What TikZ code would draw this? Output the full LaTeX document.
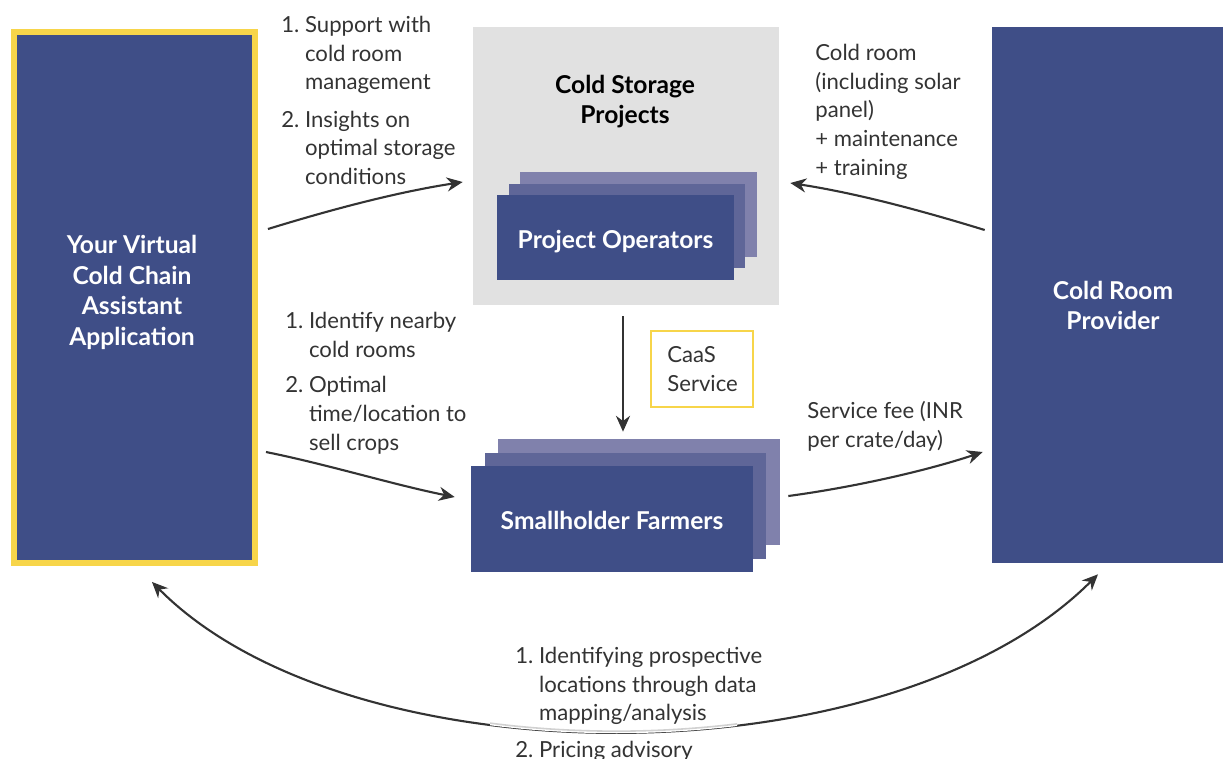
\documentclass[tikz,border=0pt]{standalone}
\usepackage{fontspec}
\setmainfont{Lato}
\usetikzlibrary{arrows.meta,calc}
\definecolor{boxblue}{HTML}{3F4E87}
\definecolor{stackmid}{HTML}{5F6698}
\definecolor{stackback}{HTML}{8081AC}
\definecolor{boxyellow}{HTML}{F7D54A}
\definecolor{panelgray}{HTML}{E1E1E1}
\definecolor{ink}{HTML}{333333}
\newcommand*{\notefont}{\fontsize{12.6}{16.3}\selectfont}
\newcommand*{\titlefont}{\fontsize{14}{17.6}\selectfont\bfseries}
\newcommand{\stackbox}[6]{%
% name, centre, width, height, layer shift, text
  \node[layer, fill=stackback, minimum width=#3, minimum height=#4]
    (#1-back) at ($(#2)+(2*#5,-2*#5)$) {};
  \node[layer, fill=stackmid, minimum width=#3, minimum height=#4]
    (#1-mid) at ($(#2)+(#5,-#5)$) {};
  \node[layer, fill=boxblue, minimum width=#3, minimum height=#4]
    (#1) at (#2) {};
  \node[title, text=white] (#1-text) at ($(#1)+(0,4.5)$) {#6};
}
\tikzset{
  layer/.style={rectangle, inner sep=0pt, draw=none},
  title/.style={align=center, inner sep=0pt, font=\titlefont,
    execute at begin node=\strut},
  note/.style={anchor=north west, align=left, inner sep=0pt,
    font=\notefont, text=ink, execute at begin node=\strut},
  flow/.style={draw=ink, line width=1.2pt, -{Stealth[length=9pt,width=8pt]}}
}

\begin{document}
\begin{tikzpicture}[x=0.02cm, y=-0.02cm]
  \useasboundingbox (0,0) rectangle (1223,758);

  % main boxes
  \node[layer, fill=boxblue, draw=boxyellow, line width=3.4pt,
    minimum width=4.82cm, minimum height=10.62cm] (app) at (134.5,297.5) {};
  \node[title, text=white] (apptext) at (132,295)
    {Your Virtual\\Cold Chain\\Assistant\\Application};
  \node[layer, fill=boxblue, minimum width=4.86cm, minimum height=10.72cm]
    (provider) at (1113.5,295) {};
  \node[title, text=white] (providertext) at (1113,310) {Cold Room\\Provider};
  \node[layer, fill=panelgray, minimum width=6.12cm, minimum height=5.56cm]
    (projects) at (626,166) {};
  \node[title, text=black] (projectstext) at (625,104) {Cold Storage\\Projects};

  \stackbox{operators}{615.5,237.5}{4.74cm}{1.7cm}{11.5}{Project Operators}
  \stackbox{farmers}{612,519}{5.64cm}{2.12cm}{13.5}{Smallholder Farmers}

  \node[layer, draw=boxyellow, line width=1.2pt, minimum width=2.04cm,
    minimum height=1.52cm] (caas) at (702,369) {};
  \node[note] (caastext) at (667,346) {CaaS\\Service};

  % labels
  \node[note] (supportnote) at (281,16)
    {1.\ Support with\\\hphantom{1.\ }cold room\\\hphantom{1.\ }management\\[5pt]
     2.\ Insights on\\\hphantom{2.\ }optimal storage\\\hphantom{2.\ }conditions};
  \node[note] (farmnote) at (285,312)
    {1.\ Identify nearby\\\hphantom{1.\ }cold rooms\\[4pt]
     2.\ Optimal\\\hphantom{2.\ }time/location to\\\hphantom{2.\ }sell crops};
  \node[note] (roomnote) at (815,44)
    {Cold room\\(including solar\\panel)\\+ maintenance\\+ training};
  \node[note] (feenote) at (807,401) {Service fee (INR\\per crate/day)};
  \node[note] (advisenote) at (515,647)
    {1.\ Identifying prospective\\\hphantom{1.\ }locations through data\\
     \hphantom{1.\ }mapping/analysis\\[4.5pt]2.\ Pricing advisory};

  % connectors
  \draw[flow] ($(app.east)+(10,-68.5)$) .. controls +(65,-20) and +(-65,10)
    .. ($(projects.west)+(-10,16)$);
  \draw[flow] ($(app.east)+(8,154.5)$) .. controls +(60,12) and +(-60,-12)
    .. ($(farmers.west)+(-16,-22)$);
  \draw[flow] ($(provider.west)+(-7,-65)$) .. controls +(-65,-20) and +(65,10)
    .. ($(projects.east)+(11,17)$);
  \draw[flow] ($(farmers-back.east)+(8,4)$) .. controls +(60,-8) and +(-60,20)
    .. ($(provider.west)+(-9,157)$);
  \draw[flow] ($(projects.south)+(-3,11)$)
    -- ($(projects.south |- farmers-back.north)+(-3,-7)$);

  \coordinate (advL) at ($(app.south)+(17.5,16)$);
  \coordinate (advR) at ($(provider.south)+(-15.5,11)$);
  \draw[flow, {Stealth[length=9pt,width=8pt]}-{Stealth[length=9pt,width=8pt]}]
    (advL) .. controls +(198,200) and +(-208,208) .. (advR);
  \begin{scope}
    \clip (490,680) rectangle (737,760);
    \draw[preaction={draw=white, line width=2.4pt}, draw=black!18, line width=0.9pt]
      (advL) .. controls +(198,200) and +(-208,208) .. (advR);
  \end{scope}
\end{tikzpicture}
\end{document}
